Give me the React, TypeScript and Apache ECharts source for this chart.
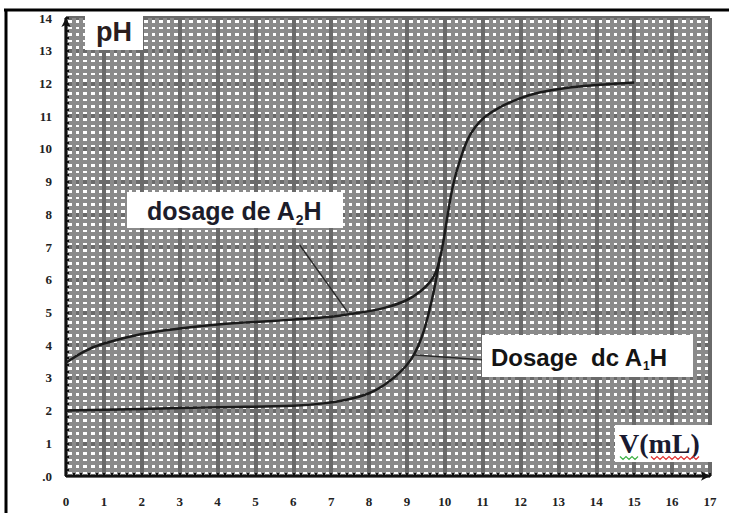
import React, { useEffect, useRef } from "react";
import * as echarts from "echarts";

// Volume (mL) and pH for the titration of A2H
const volA2H = [0, 0.5, 1, 2, 3, 4, 5, 6, 7, 7.5, 8, 8.5, 9, 9.35, 9.6, 9.75, 9.85, 9.95, 10.05, 10.15, 10.25, 10.4, 10.6, 10.8, 11.05, 11.45, 12, 12.5, 13.2, 14, 15];
const pHA2H = [3.46, 3.82, 4.05, 4.34, 4.51, 4.63, 4.71, 4.78, 4.87, 4.95, 5.04, 5.17, 5.38, 5.64, 5.92, 6.2, 6.55, 7.1, 7.8, 8.5, 9.05, 9.65, 10.28, 10.66, 10.97, 11.27, 11.55, 11.72, 11.86, 11.95, 12.03];

// Volume (mL) and pH for the titration of A1H
const volA1H = [0, 2, 4, 6, 6.8, 7.4, 8, 8.4, 8.8, 9.1, 9.3, 9.45, 9.58, 9.7, 9.8, 9.87];
const pHA1H = [2.0, 2.05, 2.1, 2.15, 2.22, 2.33, 2.53, 2.78, 3.15, 3.55, 3.98, 4.45, 5.0, 5.6, 6.2, 6.7];

// Annotation pointer segments (data coordinates)
const pointerA2HX = [6.17, 7.44];
const pointerA2HY = [7.06, 5.0];
const pointerA1HX = [9.21, 10.98];
const pointerA1HY = [3.7, 3.55];

const xTickLabels = ["0", "1", "2", "3", "4", "5", "6", "7", "8", "9", "10", "11", "12", "13", "14", "15", "16", "17"];
const yTickLabels = [".0", "1", "2", "3", "4", "5", "6", "7", "8", "9", "10", "11", "12", "13", "14"];

const zip = (xs: number[], ys: number[]) => xs.map((x, i) => [x, ys[i]]);

export default function App() {
  const ref = useRef<HTMLDivElement>(null);
  useEffect(() => {
    if (!ref.current) return;
    const chart = echarts.init(ref.current, null, { renderer: "svg" });
    const curveStyle = { color: "#1b1b1b", width: 2.5 };
    const axisLabel = {
      color: "#222",
      fontFamily: "Liberation Serif",
      fontWeight: "bold" as const,
      fontSize: 13,
    };
    const wave = (x0: number, x1: number, y: number) => {
      const pts: number[][] = [];
      let up = true;
      for (let x = x0; x <= x1; x += 3) {
        pts.push([x, up ? y - 1.5 : y + 1.5]);
        up = !up;
      }
      return pts;
    };
    const minorLine = { color: "#8a8a8a", width: 4 };
    const majorLine = { color: "#6a6a6a", width: 4 };
    chart.setOption({
      animation: false,
      backgroundColor: "#ffffff",
      grid: { left: 66, right: 19, top: 18, bottom: 37, show: false },
      xAxis: {
        type: "value",
        min: 0,
        max: 17,
        interval: 1,
        axisLine: { show: true, lineStyle: { color: "#111", width: 2 }, symbol: ["none", "arrow"], symbolSize: [7, 9] },
        axisTick: { show: true, length: 3, inside: true, lineStyle: { color: "#111", width: 2 } },
        minorTick: { show: true, splitNumber: 5, length: 3, lineStyle: { color: "#111", width: 2 } },
        axisLabel: { ...axisLabel, margin: 19, formatter: (v: number) => xTickLabels[Math.round(v)] ?? "" },
        splitLine: { show: true, lineStyle: majorLine },
        minorSplitLine: { show: true, lineStyle: minorLine },
      },
      yAxis: {
        type: "value",
        min: 0,
        max: 14,
        interval: 1,
        axisLine: { show: true, lineStyle: { color: "#111", width: 2 }, symbol: ["none", "arrow"], symbolSize: [7, 9] },
        axisTick: { show: true, length: 3, inside: true, lineStyle: { color: "#111", width: 2 } },
        minorTick: { show: true, splitNumber: 5, length: 3, lineStyle: { color: "#111", width: 2 } },
        axisLabel: { ...axisLabel, margin: 14, formatter: (v: number) => yTickLabels[Math.round(v)] ?? "" },
        splitLine: { show: true, lineStyle: majorLine },
        minorSplitLine: { show: true, lineStyle: minorLine },
      },
      series: [
        {
          name: "dosage de A2H",
          type: "line",
          data: zip(volA2H, pHA2H),
          smooth: 0.4,
          showSymbol: false,
          lineStyle: curveStyle,
        },
        {
          name: "Dosage dc A1H",
          type: "line",
          data: zip(volA1H, pHA1H),
          smooth: 0.4,
          showSymbol: false,
          lineStyle: curveStyle,
        },
        {
          type: "line",
          data: zip(pointerA2HX, pointerA2HY),
          showSymbol: false,
          lineStyle: { color: "#2a2a2a", width: 1.5 },
        },
        {
          type: "line",
          data: zip(pointerA1HX, pointerA1HY),
          showSymbol: false,
          lineStyle: { color: "#2a2a2a", width: 1.5 },
        },
      ],
      graphic: [
        { type: "line", shape: { x1: 4, y1: 10, x2: 729, y2: 10 }, style: { stroke: "#000", lineWidth: 3 }, z: 100 },
        { type: "line", shape: { x1: 6, y1: 9, x2: 6, y2: 513 }, style: { stroke: "#000", lineWidth: 3 }, z: 100 },
        { type: "rect", shape: { x: 85, y: 13, width: 58, height: 37 }, style: { fill: "#fff" }, z: 100 },
        {
          type: "text", x: 114, y: 32, z: 101,
          style: { text: "pH", fill: "#2a1d1d", font: "bold 27px 'Liberation Sans'", textAlign: "center", textVerticalAlign: "middle" },
        },
        { type: "rect", shape: { x: 127, y: 192, width: 216, height: 36 }, style: { fill: "#fff" }, z: 100 },
        {
          type: "text", x: 147, y: 211, z: 101,
          style: {
            text: "{a|dosage de A}{s|2}{a|H}",
            textVerticalAlign: "middle",
            rich: {
              a: { fontFamily: "Liberation Sans", fontWeight: "bold", fontSize: 25, fill: "#1c1c2a", verticalAlign: "bottom" },
              s: { fontFamily: "Liberation Sans", fontWeight: "bold", fontSize: 14, fill: "#1c1c2a", verticalAlign: "bottom", padding: [0, 0, -3, 0] },
            },
          },
        },
        { type: "rect", shape: { x: 482, y: 335, width: 211, height: 42 }, style: { fill: "#fff" }, z: 100 },
        {
          type: "text", x: 491, y: 357, z: 101,
          style: {
            text: "{a|Dosage  dc A}{s|1}{a|H}",
            textVerticalAlign: "middle",
            rich: {
              a: { fontFamily: "Liberation Sans", fontWeight: "bold", fontSize: 24, fill: "#141414", verticalAlign: "bottom" },
              s: { fontFamily: "Liberation Sans", fontWeight: "bold", fontSize: 12, fill: "#141414", verticalAlign: "bottom", padding: [0, 0, -3, 0] },
            },
          },
        },
        { type: "rect", shape: { x: 615, y: 425, width: 98, height: 37 }, style: { fill: "#fff" }, z: 100 },
        {
          type: "text", x: 619, y: 443, z: 101,
          style: { text: "V(mL)", fill: "#1a1a30", font: "bold 28px 'Liberation Serif'", textVerticalAlign: "middle" },
        },
        { type: "polyline", shape: { points: wave(620, 638, 458) }, style: { stroke: "#3cb043", lineWidth: 1.2, fill: "none" }, z: 102 },
        { type: "polyline", shape: { points: wave(651, 699, 458) }, style: { stroke: "#e03030", lineWidth: 1.2, fill: "none" }, z: 102 },
      ],
    });
    return () => chart.dispose();
  }, []);
  return <div ref={ref} style={{ position: "fixed", left: 0, top: 0, width: 729, height: 513 }} />;
}
